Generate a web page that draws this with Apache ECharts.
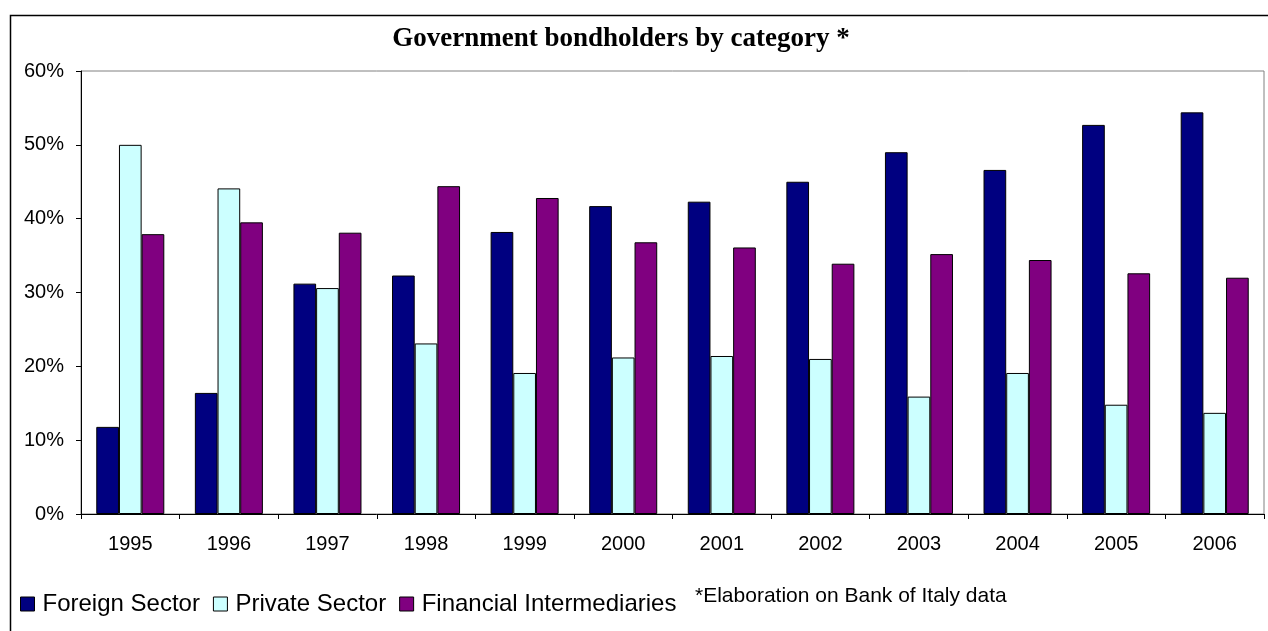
<!DOCTYPE html>
<html>
<head>
<meta charset="utf-8">
<script src="https://cdn.jsdelivr.net/npm/echarts@6/dist/echarts.min.js"></script>
<style>
  html, body { margin: 0; padding: 0; background: #fff; }
  #chart { width: 1268px; height: 631px; }
</style>
</head>
<body>
<div id="chart"></div>
<script>
// Holders of Italian government bonds, share by category (%)
const years = ['1995', '1996', '1997', '1998', '1999', '2000', '2001', '2002', '2003', '2004', '2005', '2006'];
const foreignSector = [11.8, 16.4, 31.2, 32.3, 38.2, 41.7, 42.3, 45.0, 49.0, 46.6, 52.7, 54.4];
const privateSector = [50.0, 44.1, 30.6, 23.1, 19.1, 21.2, 21.4, 21.0, 15.9, 19.1, 14.8, 13.7];
const financialIntermediaries = [37.9, 39.5, 38.1, 44.4, 42.8, 36.8, 36.1, 33.9, 35.2, 34.4, 32.6, 32.0];
const seriesNames = ['Foreign Sector', 'Private Sector', 'Financial Intermediaries'];
const titleText = 'Government bondholders by category *';
const noteText = '*Elaboration on Bank of Italy data';

const colors = ['#000080', '#CCFFFF', '#800080'];
const sans = '"Liberation Sans", Arial, sans-serif';

const chart = echarts.init(document.getElementById('chart'), null, { renderer: 'canvas' });

function barSeries(name, data, color) {
  return {
    name: name,
    type: 'bar',
    data: data,
    barGap: '0%',
    barCategoryGap: '31%',
    itemStyle: { color: color, borderColor: '#000', borderWidth: 1 },
    emphasis: { disabled: true },
    animation: false
  };
}

chart.setOption({
  animation: false,
  backgroundColor: '#fff',
  grid: {
    left: 81, right: 4, top: 71, bottom: 117,
    show: true, borderColor: '#808080', borderWidth: 1, backgroundColor: '#fff'
  },
  legend: {
    data: seriesNames,
    left: 15, top: 587,
    icon: 'rect',
    itemWidth: 14, itemHeight: 14,
    itemGap: 13,
    textStyle: { fontFamily: sans, fontSize: 24, color: '#000', padding: [0, 0, 0, 3] },
    itemStyle: { borderColor: '#000', borderWidth: 1 },
    selectedMode: false
  },
  xAxis: {
    type: 'category',
    data: years,
    axisLine: { lineStyle: { color: '#000', width: 1 } },
    axisTick: { show: true, length: 5, lineStyle: { color: '#000' } },
    axisLabel: { color: '#000', fontFamily: sans, fontSize: 20, margin: 20 }
  },
  yAxis: {
    type: 'value',
    min: 0, max: 60, interval: 10,
    axisLine: { show: true, lineStyle: { color: '#000', width: 1 } },
    axisTick: { show: true, length: 5, lineStyle: { color: '#000' } },
    splitLine: { show: false },
    axisLabel: { color: '#000', fontFamily: sans, fontSize: 20, margin: 17, formatter: '{value}%' }
  },
  series: [
    barSeries(seriesNames[0], foreignSector, colors[0]),
    barSeries(seriesNames[1], privateSector, colors[1]),
    barSeries(seriesNames[2], financialIntermediaries, colors[2])
  ],
  graphic: [
    {
      type: 'rect',
      silent: true,
      shape: { x: 10.5, y: 15.5, width: 1300, height: 700 },
      style: { fill: 'none', stroke: '#000', lineWidth: 1.5 },
      z: 100
    },
    {
      type: 'text',
      silent: true,
      x: 621, y: 39,
      style: {
        text: titleText,
        fontFamily: '"Liberation Serif", "Times New Roman", serif',
        fontWeight: 'bold',
        fontSize: 27,
        fill: '#000',
        textAlign: 'center',
        textVerticalAlign: 'middle'
      }
    },
    {
      type: 'text',
      silent: true,
      x: 695, y: 596,
      style: {
        text: noteText,
        fontFamily: sans,
        fontSize: 21,
        fill: '#000',
        textAlign: 'left',
        textVerticalAlign: 'middle'
      }
    }
  ]
});
</script>
</body>
</html>
